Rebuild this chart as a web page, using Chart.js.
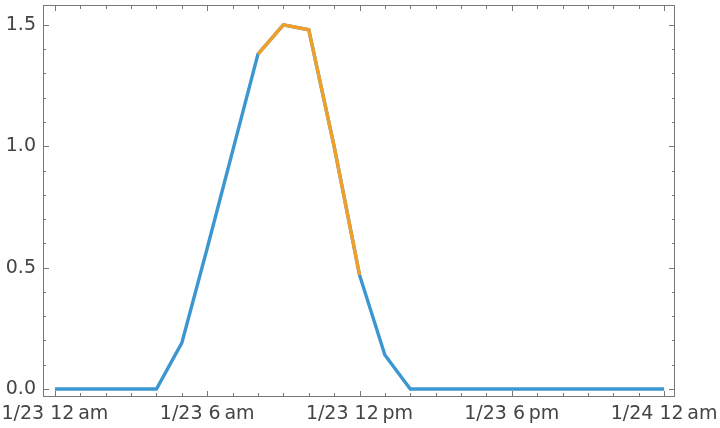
<!DOCTYPE html>
<html>
<head>
<meta charset="utf-8">
<script src="https://cdn.jsdelivr.net/npm/chart.js@4"></script>
<style>
  html, body { margin: 0; padding: 0; background: #fff; }
  #wrap { width: 720px; height: 428px; }
</style>
</head>
<body>
<div id="wrap"><canvas id="plot"></canvas></div>
<script>
// hours since 1/23 12 am
var hours = [0, 1, 2, 3, 4, 5, 6, 7, 8, 9, 10, 11, 12, 13, 14, 15, 16, 17, 18, 19, 20, 21, 22, 23, 24];
var blueValues = [0, 0, 0, 0, 0, 0.19, 0.58, 0.98, 1.38, 1.5, 1.48, 1.0, 0.47, 0.14, 0, 0, 0, 0, 0, 0, 0, 0, 0, 0, 0];
// highlighted part
var orangeHours = [8, 9, 10, 11, 12];
var orangeValues = [1.38, 1.5, 1.48, 1.0, 0.47];
// x tick labels
var xTickHours = [0, 6, 12, 18, 24];
var xTickLabels = ["1/23 12\u2009am", "1/23 6\u2009am", "1/23 12\u2009pm", "1/23 6\u2009pm", "1/24 12\u2009am"];
var yTicks = [0, 0.5, 1.0, 1.5];

var frameColor = "#777";

// draws the box and inward ticks, Mathematica style
var frameTicks = {
  id: "frameTicks",
  afterDraw: function (chart) {
    var ctx = chart.ctx, a = chart.chartArea;
    var xs = chart.scales.x, ys = chart.scales.y;
    ctx.save();
    ctx.strokeStyle = frameColor;
    ctx.lineWidth = 1;
    ctx.strokeRect(a.left + 0.5, a.top + 0.5, a.right - a.left - 1, a.bottom - a.top - 1);
    ctx.beginPath();
    for (var h = 0; h <= 24; h++) {
      var px = Math.round(xs.getPixelForValue(h)) + 0.5;
      var len = (h % 6 === 0) ? 6 : 4;
      ctx.moveTo(px, a.bottom); ctx.lineTo(px, a.bottom - len);
      ctx.moveTo(px, a.top); ctx.lineTo(px, a.top + len);
    }
    for (var i = 0; i <= 15; i++) {
      var py = Math.round(ys.getPixelForValue(i / 10)) + 0.5;
      var l2 = (i % 5 === 0) ? 6 : 3;
      ctx.moveTo(a.left, py); ctx.lineTo(a.left + l2, py);
      ctx.moveTo(a.right, py); ctx.lineTo(a.right - l2, py);
    }
    ctx.stroke();
    ctx.restore();
  }
};

new Chart(document.getElementById("plot"), {
  type: "line",
  data: {
    datasets: [
      {
        data: orangeHours.map(function (h, i) { return { x: h, y: orangeValues[i] }; }),
        borderColor: "rgb(240,160,40)",
        borderWidth: 3.4,
        pointRadius: 0,
        tension: 0,
        fill: false
      },
      {
        data: hours.map(function (h, i) { return { x: h, y: blueValues[i] }; }),
        borderColor: "rgb(60,150,208)",
        borderWidth: 3.4,
        pointRadius: 0,
        tension: 0,
        fill: false
      }
    ]
  },
  options: {
    responsive: true,
    maintainAspectRatio: false,
    animation: false,
    layout: { padding: { top: 5, right: 45, left: 0, bottom: 0 } },
    plugins: { legend: { display: false }, tooltip: { enabled: false } },
    scales: {
      x: {
        type: "linear",
        min: -0.47,
        max: 24.43,
        afterBuildTicks: function (s) { s.ticks = xTickHours.map(function (v) { return { value: v }; }); },
        afterFit: function (s) { s.height = 31; s.paddingLeft = 0; s.paddingRight = 0; },
        grid: { display: false, drawTicks: false },
        border: { display: false },
        ticks: {
          autoSkip: false,
          maxRotation: 0,
          padding: 6,
          color: "#444",
          font: { family: "DejaVu Sans", size: 19 },
          callback: function (v) { return xTickLabels[xTickHours.indexOf(v)]; }
        }
      },
      y: {
        min: -0.033,
        max: 1.582,
        afterBuildTicks: function (s) { s.ticks = yTicks.map(function (v) { return { value: v }; }); },
        afterFit: function (s) { s.width = 43; s.paddingTop = 0; s.paddingBottom = 0; },
        grid: { display: false, drawTicks: false },
        border: { display: false },
        ticks: {
          padding: 7,
          color: "#444",
          font: { family: "DejaVu Sans", size: 19 },
          callback: function (v) { return v.toFixed(1); }
        }
      }
    }
  },
  plugins: [frameTicks]
});
</script>
</body>
</html>
